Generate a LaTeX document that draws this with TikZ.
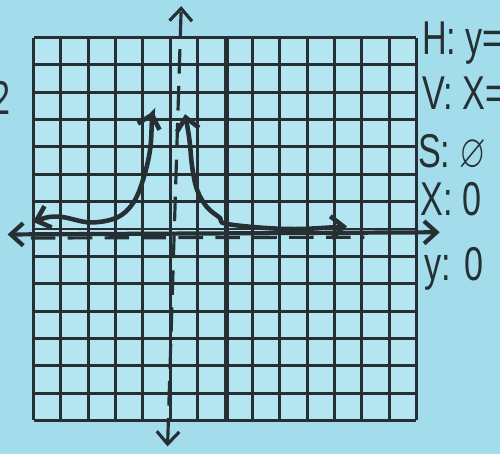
\documentclass[tikz,border=0pt]{standalone}
\usepackage{amssymb}
\usepackage{fontspec}
\setmainfont{Liberation Sans}
\usetikzlibrary{arrows.meta}

\definecolor{paper}{RGB}{163,221,235}
\definecolor{cell}{RGB}{180,230,242}
\definecolor{ink}{RGB}{38,48,52}

\begin{document}
\begin{tikzpicture}[
  x=0.547cm,y=0.547cm,
  >={Straight Barb[length=2.5mm,width=4.5mm]},
  gridline/.style={draw=ink,line width=1.7pt},
  axis/.style={draw=ink,line width=2.4pt},
  curve/.style={draw=ink,line width=2.6pt,line cap=round},
  asym/.style={draw=ink,line width=1.8pt,dash pattern=on 14pt off 7pt},
  hand/.style={font=\fontsize{27}{27}\selectfont,text=ink,inner sep=0pt,xscale=0.72,anchor=west}
]
\fill[paper] (-8.227,-8.227) rectangle (10.055,8.373);
\useasboundingbox (-8.227,-8.227) rectangle (10.055,8.373);
% grid paper
\fill[cell] (-7,-7) rectangle (7,7);
\draw[gridline,step=1] (-7,-7) grid (7,7);
% axes
\coordinate (xl) at (-7.95,-0.2);
\coordinate (xr) at (7.85,-0.12);
\coordinate (yb) at (0.07,-7);
\coordinate (yt) at (0.07,7);
\draw[axis,<->] (xl) -- (xr);
\draw[axis] (yb) -- (yt);
% asymptotes
\coordinate (vb) at (-2.1,-7.95);
\coordinate (vt) at (-1.6,8.15);
\coordinate (hl) at (-7.1,-0.33);
\coordinate (hr) at (5.1,-0.3);
\draw[asym,<->] (vb) -- (vt);
\draw[asym] (hl) -- (hr);
% the two branches
\draw[curve,<->] plot[smooth,tension=0.6] coordinates {(-7.02,0.26) (-6.1,0.45) (-4.94,0.24) (-3.95,0.42) (-3.36,0.95) (-3.0,1.79) (-2.74,2.89) (-2.67,3.99) (-2.63,4.3)};
\draw[curve,<->] plot[smooth,tension=0.6] coordinates {(-1.46,4.2) (-1.3,3.25) (-1.2,2.27) (-1.02,1.43) (-0.66,0.8) (-0.18,0.4) (0,0.2) (1.3,0.05) (2.74,0.0) (4.46,0.1)};
% notes
\node[hand] (hasym) at (7.2,6.8) {H: y=};
\node[hand] (vasym) at (7.2,4.95) {V: X=};
\node[hand] (slant) at (7.05,2.8) {S: $\varnothing$};
\node[hand] (xint) at (7.15,1.1) {X: 0};
\node[hand] (yint) at (7.3,-1.45) {y: 0};
\node[hand,anchor=east] (mark) at (-7.85,4.8) {2};
\end{tikzpicture}
\end{document}
